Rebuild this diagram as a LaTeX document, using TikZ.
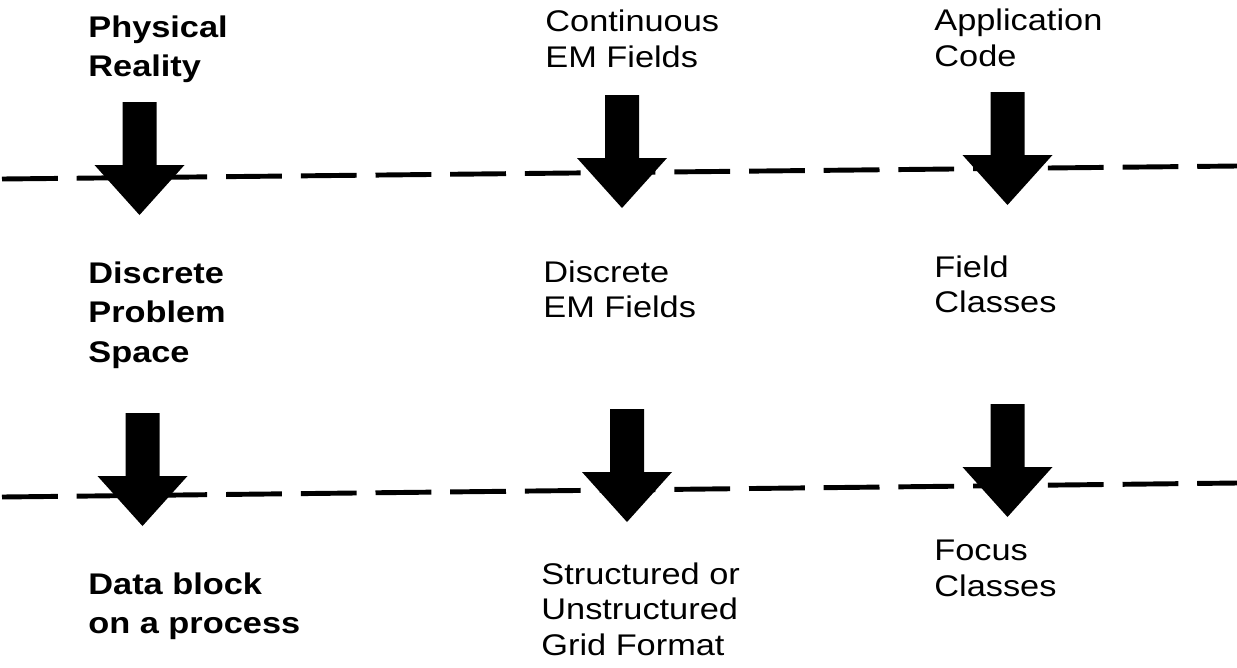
\documentclass[tikz,border=0pt]{standalone}
\usepackage{fontspec}
\setmainfont{Liberation Sans}[FakeStretch=1.15]

\tikzset{
  lbl/.style={anchor=north west, inner sep=0pt, align=left, font=\fontsize{17}{20.4}\selectfont},
  boldlbl/.style={lbl, font=\fontsize{17}{22.7}\selectfont\bfseries},
  divider/.style={line width=2.8pt, dash pattern=on 31.75pt off 10.77pt},
  blockdown/.pic={\fill (-17,0) -- (17,0) -- (17,63) -- (45,63) -- (0,113) -- (-45,63) -- (-17,63) -- cycle;}
}

\begin{document}
\begin{tikzpicture}[x=0.02cm, y=-0.02cm]
  \useasboundingbox (0,0) rectangle (1237,667);
  \draw [divider] (2,179) -- (1237,166);
  \draw [divider] (2,497) -- (1237,483);

  \node (phys) [boldlbl] at (88,15) {Physical\\Reality};
  \node (contem) [lbl] at (545,10) {Continuous\\EM Fields};
  \node (appcode) [lbl] at (934,9) {Application\\Code};

  \node (probspace) [boldlbl] at (88,261) {Discrete\\Problem\\Space};
  \node (discem) [lbl] at (543,260) {Discrete\\EM Fields};
  \node (fieldcls) [lbl] at (934,255) {Field\\Classes};

  \node (datablock) [boldlbl] at (88,572) {Data block\\on a process};
  \node (gridfmt) [lbl] at (541,562) {Structured or\\Unstructured\\Grid Format};
  \node (focuscls) [lbl] at (934,540) {Focus\\Classes};

  \pic at (139.5,102) {blockdown};
  \pic at (622,95) {blockdown};
  \pic at (1007.5,92) {blockdown};
  \pic at (142.5,413) {blockdown};
  \pic at (627,409) {blockdown};
  \pic at (1007.5,404) {blockdown};
\end{tikzpicture}
\end{document}
